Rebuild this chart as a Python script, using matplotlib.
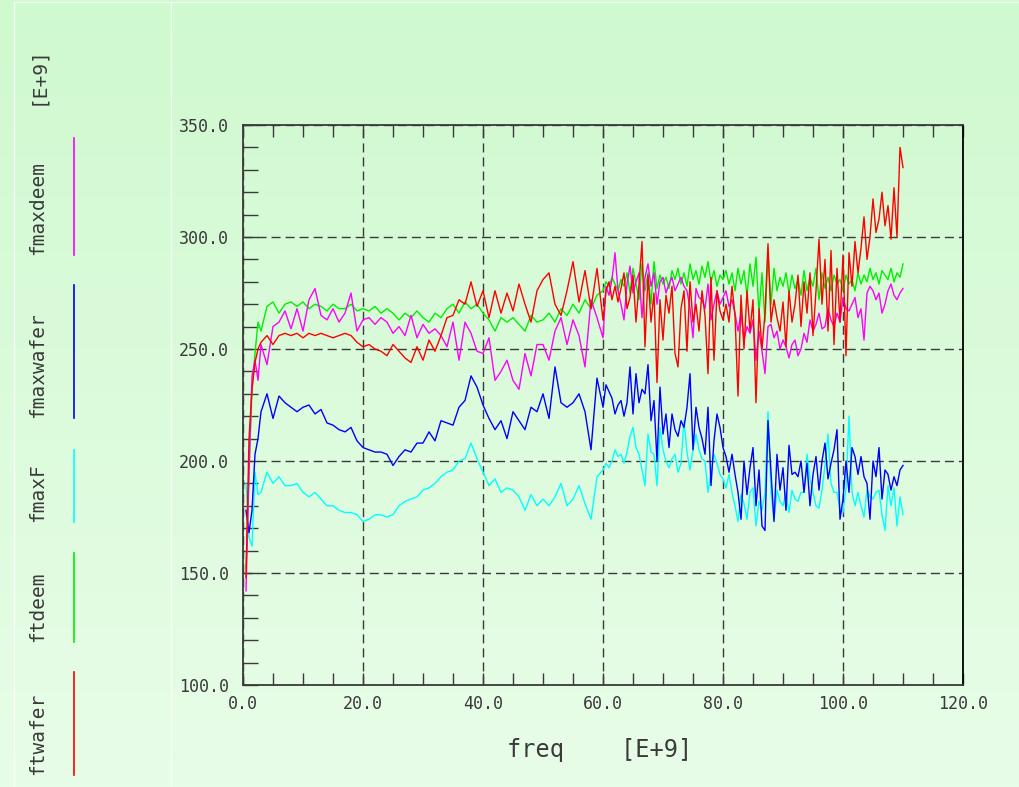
"""
Waveform-viewer style plot of fmax / ft versus frequency.
"""

import numpy as np
import matplotlib
matplotlib.use("Agg")
from matplotlib import pyplot as plt
from matplotlib.lines import Line2D
from matplotlib.colors import LinearSegmentedColormap
from matplotlib.ticker import MultipleLocator, FormatStrFormatter


# Visual elements
FONT = "DejaVu Sans Mono"
TEXT_COLOR = "#3a3a3a"
AXIS_COLOR = "#3a3a3a"
TICK_FONTSIZE = 12
LABEL_FONTSIZE = 17
LEGEND_FONTSIZE = 14
LINE_WIDTH = 1.0

# Frequency grid [E+9]: fine at the start, 1 GHz steps, then 0.5 GHz steps
FREQ = [0.5, 1.0, 1.5, 2.0, 2.5] + list(range(3, 60)) + [60 + 0.5 * i for i in range(101)]

FTWAFER = [148, 210, 232, 244, 250,
           253, 256, 252, 256, 257, 256, 257, 255, 257, 256,
           257, 256, 255, 256, 257, 256, 253, 251, 252, 250,
           249, 247, 252, 249, 246, 244, 251, 245, 254, 249,
           256, 264, 265, 272, 270, 280, 269, 276, 264, 276,
           266, 275, 267, 279, 270, 262, 276, 281, 284, 270,
           265, 276, 289, 271, 285, 268, 286,
           263, 276, 280, 272, 278, 271, 277, 284, 268, 273,
           283, 262, 279, 298, 251, 283, 262, 275, 235, 272,
           254, 274, 266, 278, 248, 242, 268, 276, 249, 280,
           262, 270, 258, 276, 265, 239, 282, 245, 276, 267,
           263, 270, 262, 278, 265, 229, 274, 250, 276, 258,
           272, 226, 268, 250, 266, 297, 262, 272, 264, 258,
           271, 251, 276, 262, 270, 283, 260, 280, 266, 284,
           256, 276, 299, 270, 290, 258, 294, 252, 286, 262,
           292, 247, 293, 278, 298, 284, 295, 309, 290, 300,
           317, 302, 308, 320, 305, 314, 299, 322, 300, 340,
           331]

FTDEEM = [152, 195, 232, 248, 262,
          258, 269, 271, 266, 270, 271, 269, 271, 268, 270,
          269, 267, 270, 268, 268, 270, 267, 268, 267, 269,
          266, 268, 266, 263, 266, 264, 267, 264, 262, 266,
          264, 268, 270, 266, 271, 268, 270, 266, 263, 258,
          264, 262, 264, 261, 258, 265, 262, 263, 266, 262,
          268, 265, 270, 266, 272, 268, 274,
          276, 280, 278, 282, 279, 276, 281, 278, 284, 275,
          286, 279, 272, 288, 276, 284, 270, 289, 277, 283,
          279, 282, 277, 285, 281, 286, 279, 284, 278, 288,
          281, 285, 279, 287, 282, 289, 280, 285, 278, 283,
          281, 285, 279, 284, 276, 286, 279, 285, 274, 288,
          278, 291, 266, 284, 262, 293, 270, 286, 276, 282,
          278, 284, 275, 283, 277, 281, 274, 285, 276, 282,
          278, 286, 272, 284, 277, 282, 276, 283, 279, 281,
          276, 283, 279, 281, 276, 284, 279, 283, 280, 286,
          281, 284, 279, 285, 283, 281, 286, 280, 284, 282,
          288]

FMAXF = [190, 166, 162, 195, 185,
         186, 195, 190, 193, 189, 189, 190, 186, 184, 186,
         183, 180, 180, 178, 177, 177, 176, 173, 174, 176,
         176, 175, 176, 180, 182, 183, 184, 187, 188, 190,
         193, 195, 196, 200, 201, 208, 201, 195, 189, 192,
         186, 188, 187, 184, 178, 185, 180, 183, 180, 184,
         190, 180, 183, 189, 181, 174, 193,
         196, 199, 197, 200, 205, 202, 203, 199, 204, 211,
         215, 206, 203, 196, 189, 212, 204, 203, 189, 215,
         205, 200, 197, 201, 203, 195, 199, 218, 204, 196,
         205, 212, 205, 201, 200, 186, 195, 203, 199, 194,
         192, 188, 194, 186, 180, 173, 185, 181, 174, 186,
         188, 171, 182, 178, 186, 222, 186, 174, 187, 182,
         180, 186, 177, 187, 183, 182, 186, 186, 203, 192,
         186, 180, 179, 187, 198, 212, 190, 186, 186, 178,
         177, 188, 220, 186, 180, 186, 180, 175, 187, 184,
         183, 186, 187, 176, 169, 189, 180, 188, 171, 184,
         176]

FMAXWAFER = [178, 168, 178, 203, 210,
             222, 230, 219, 229, 226, 224, 222, 224, 225, 221,
             223, 217, 216, 214, 213, 215, 209, 206, 205, 204,
             204, 203, 198, 202, 205, 204, 208, 208, 213, 209,
             218, 217, 216, 224, 227, 238, 233, 225, 219, 214,
             218, 210, 222, 218, 214, 224, 222, 230, 219, 242,
             226, 224, 226, 230, 222, 205, 237,
             224, 234, 231, 228, 221, 225, 227, 220, 226, 242,
             221, 239, 226, 232, 230, 243, 218, 227, 200, 233,
             212, 221, 206, 221, 214, 211, 218, 215, 224, 239,
             205, 224, 215, 210, 203, 224, 189, 209, 221, 215,
             206, 202, 195, 203, 194, 186, 174, 200, 185, 197,
             206, 180, 196, 171, 169, 218, 195, 173, 203, 187,
             197, 178, 207, 194, 195, 193, 200, 186, 199, 180,
             194, 202, 187, 200, 208, 192, 199, 205, 214, 174,
             183, 200, 186, 206, 202, 194, 202, 193, 190, 174,
             200, 193, 206, 183, 196, 194, 187, 193, 189, 196,
             198]

FMAXDEEM = [142, 195, 238, 245, 236,
            252, 243, 260, 262, 267, 259, 268, 258, 272, 277,
            265, 263, 268, 262, 266, 275, 258, 263, 264, 261,
            264, 262, 257, 260, 256, 265, 255, 261, 257, 259,
            256, 251, 262, 245, 262, 257, 249, 248, 255, 236,
            240, 245, 236, 232, 248, 238, 252, 252, 245, 258,
            264, 252, 263, 256, 242, 272, 264,
            255, 278, 274, 281, 293, 276, 270, 263, 279, 287,
            275, 280, 284, 264, 282, 288, 278, 284, 270, 280,
            282, 275, 279, 282, 276, 279, 282, 278, 276, 268,
            255, 277, 273, 272, 268, 279, 263, 270, 276, 270,
            273, 276, 269, 272, 266, 258, 266, 254, 260, 257,
            263, 245, 258, 249, 239, 260, 261, 255, 258, 250,
            254, 251, 246, 252, 254, 247, 250, 257, 253, 263,
            258, 261, 266, 259, 260, 268, 263, 260, 266, 262,
            273, 268, 267, 270, 273, 264, 268, 254, 275, 278,
            276, 272, 275, 266, 270, 276, 279, 274, 272, 275,
            277]

# Legend entries, bottom to top as they sit in the left strip
LEGEND_NAMES = ["ftwafer", "ftdeem", "fmaxF", "fmaxwafer", "fmaxdeem"]
LEGEND_COLORS = ["#ff0000", "#00ee00", "#00ffff", "#0000ff", "#ff00ff"]
# pixel rows (bottom, top) of each legend entry
LEGEND_SPANS = [(775, 672), (642, 553), (522, 450), (418, 285), (255, 138)]

W, H = 1020, 787


def fx(px):
    return px / W


def fy(py):
    return 1 - py / H


plt.rcParams["font.family"] = FONT

fig = plt.figure(figsize=(W / 100, H / 100), dpi=100)

# light green gradient background
bg = fig.add_axes([0, 0, 1, 1], zorder=-10)
grad = np.linspace(0, 1, 256).reshape(-1, 1)
bg_cmap = LinearSegmentedColormap.from_list("bg", ["#cff9cf", "#e8fde8"])
bg.imshow(grad, aspect="auto", cmap=bg_cmap, extent=[0, 1, 0, 1])
bg.set_xlim(0, 1)
bg.set_ylim(0, 1)
bg.axis("off")

# window frame lines
for x in (14, 171):
    fig.add_artist(Line2D([fx(x), fx(x)], [0, fy(2)], transform=fig.transFigure,
                          color="white", lw=1.0, alpha=0.7, zorder=-5))
fig.add_artist(Line2D([fx(14), 1], [fy(2), fy(2)], transform=fig.transFigure,
                      color="white", lw=1.0, alpha=0.7, zorder=-5))

ax = fig.add_axes([fx(243), fy(685), (963 - 243) / W, (685 - 125) / H])
ax.set_facecolor("none")

draw_order = [(FMAXF, 2), (FMAXWAFER, 3), (FTDEEM, 1), (FMAXDEEM, 4), (FTWAFER, 0)]
for vals, idx in draw_order:
    ax.plot(FREQ, vals, color=LEGEND_COLORS[idx], lw=LINE_WIDTH)

ax.set_xlim(0, 120)
ax.set_ylim(100, 350)
ax.xaxis.set_major_locator(MultipleLocator(20))
ax.xaxis.set_minor_locator(MultipleLocator(5))
ax.yaxis.set_major_locator(MultipleLocator(50))
ax.yaxis.set_minor_locator(MultipleLocator(10))
ax.xaxis.set_major_formatter(FormatStrFormatter("%.1f"))
ax.yaxis.set_major_formatter(FormatStrFormatter("%.1f"))

ax.tick_params(axis="x", which="both", direction="in", top=True, bottom=True,
               length=8.5, width=1.0, color=AXIS_COLOR, labelsize=TICK_FONTSIZE,
               labelcolor=TEXT_COLOR, pad=7)
ax.tick_params(axis="y", which="both", direction="in", left=True, right=False,
               length=11, width=1.0, color=AXIS_COLOR, labelsize=TICK_FONTSIZE,
               labelcolor=TEXT_COLOR, pad=10)

ax.grid(True, which="major", color=AXIS_COLOR, linestyle=(0, (6.5, 3.6)), lw=1.0)

for name, spine in ax.spines.items():
    spine.set_linewidth(1.3)
    spine.set_color("black" if name == "right" else AXIS_COLOR)

fig.text(fx(600), fy(750), "freq    [E+9]", ha="center", va="center",
         fontsize=LABEL_FONTSIZE, color=TEXT_COLOR)

# legend strip on the left
for name, color, (bot, top) in zip(LEGEND_NAMES, LEGEND_COLORS, LEGEND_SPANS):
    fig.text(fx(38), fy(bot), name, rotation=90, ha="center", va="bottom",
             fontsize=LEGEND_FONTSIZE, color=TEXT_COLOR)
    fig.add_artist(Line2D([fx(74), fx(74)], [fy(bot), fy(top)],
                          transform=fig.transFigure, color=color, lw=1.2))
fig.text(fx(38), fy(105), "[E+9]", rotation=90, ha="center", va="bottom",
         fontsize=LEGEND_FONTSIZE, color=TEXT_COLOR)

fig.savefig("out.png", dpi=100)
